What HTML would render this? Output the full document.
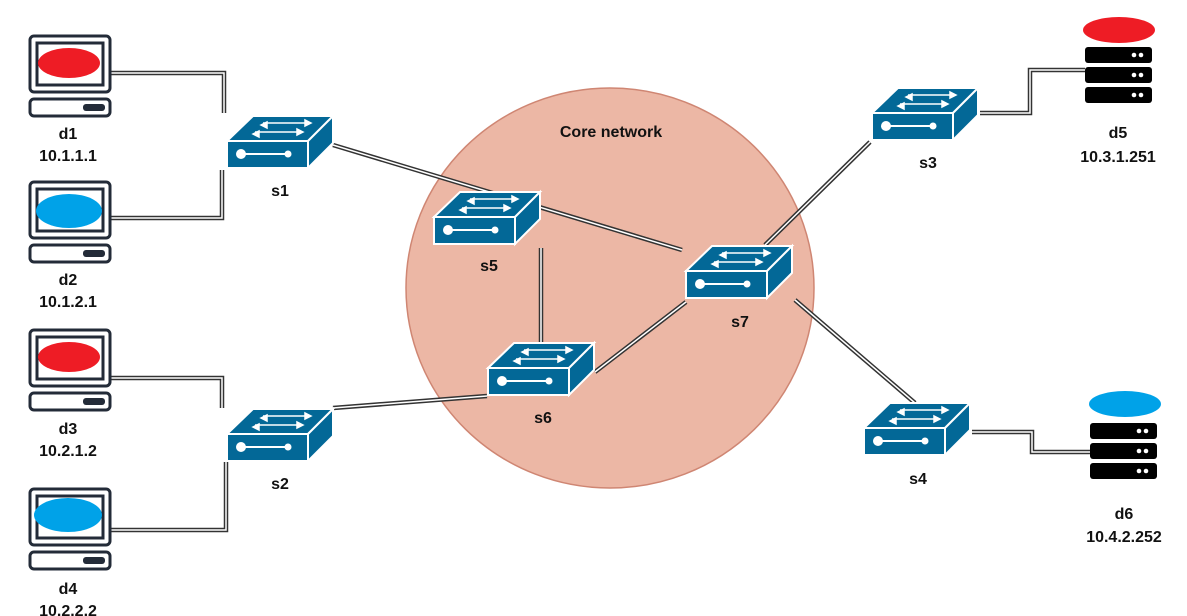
<!DOCTYPE html>
<html><head><meta charset="utf-8"><style>
html,body{margin:0;padding:0;background:#fff;}
svg{display:block;}
text{font-family:"Liberation Sans",sans-serif;font-weight:bold;font-size:16px;fill:#111;text-anchor:middle;}
</style></head><body>
<svg width="1187" height="616" viewBox="0 0 1187 616" xmlns="http://www.w3.org/2000/svg">
<defs>
<g id="sw">
<polygon points="0,0 81,0 106,-25 26,-25" fill="#036897" stroke="#fff" stroke-width="2"/>
<polygon points="81,0 106,-25 106,2 81,27" fill="#036897" stroke="#fff" stroke-width="2"/>
<rect x="0" y="0" width="81" height="27" fill="#036897" stroke="#fff" stroke-width="2"/>
<line x1="12" y1="13" x2="58" y2="13" stroke="#fff" stroke-width="2"/>
<circle cx="14" cy="13" r="5" fill="#fff"/><circle cx="61" cy="13" r="3.5" fill="#fff"/>
<g stroke="#fff" stroke-width="1.5" fill="#fff">
<line x1="36" y1="-18" x2="82" y2="-18"/><polygon points="84,-18 78,-21 78,-15"/>
<line x1="28" y1="-9" x2="74" y2="-9"/><polygon points="76,-9 70,-12 70,-6"/>
<polygon points="26,-7 32,-10 32,-4"/>
<polygon points="34,-16 40,-19 40,-13"/>
</g>
</g>
<g id="pc">
<rect x="0" y="0" width="80" height="56" rx="4" fill="#fff" stroke="#232b38" stroke-width="3"/>
<rect x="7" y="7" width="66" height="42" fill="#fff" stroke="#232b38" stroke-width="3"/>
<rect x="0" y="63" width="80" height="17" rx="4" fill="#fff" stroke="#232b38" stroke-width="3"/>
<rect x="53" y="68" width="22" height="7" rx="3" fill="#232b38"/>
</g>
<g id="srv">
<rect x="0" y="0" width="67" height="16" rx="3" fill="#000"/>
<rect x="0" y="20" width="67" height="16" rx="3" fill="#000"/>
<rect x="0" y="40" width="67" height="16" rx="3" fill="#000"/>
<g fill="#fff"><circle cx="49" cy="8" r="2.3"/><circle cx="56" cy="8" r="2.3"/>
<circle cx="49" cy="28" r="2.3"/><circle cx="56" cy="28" r="2.3"/>
<circle cx="49" cy="48" r="2.3"/><circle cx="56" cy="48" r="2.3"/></g>
</g>
</defs>
<ellipse cx="610" cy="288" rx="204" ry="200" fill="#ecb7a5" stroke="#cf8673" stroke-width="1.5"/>
<text x="611" y="137">Core network</text>
<g fill="none" stroke-linejoin="miter">
<g stroke="#333" stroke-width="4.5">
<polyline points="110,73 224,73 224,113"/>
<polyline points="110,218 222,218 222,170"/>
<polyline points="110,378 222,378 222,408"/>
<polyline points="110,530 226,530 226,462"/>
<line x1="333" y1="145" x2="682" y2="250"/>
<line x1="541" y1="248" x2="541" y2="342"/>
<line x1="333" y1="408" x2="487" y2="396"/>
<line x1="595" y1="372" x2="686" y2="302"/>
<line x1="765" y1="245" x2="870" y2="142"/>
<line x1="795" y1="300" x2="915" y2="403"/>
<polyline points="980,113 1030,113 1030,70 1085,70"/>
<polyline points="972,432 1032,432 1032,452 1090,452"/>
</g>
<g stroke="#fff" stroke-width="1.5">
<polyline points="110,73 224,73 224,113"/>
<polyline points="110,218 222,218 222,170"/>
<polyline points="110,378 222,378 222,408"/>
<polyline points="110,530 226,530 226,462"/>
<line x1="333" y1="145" x2="682" y2="250"/>
<line x1="541" y1="248" x2="541" y2="342"/>
<line x1="333" y1="408" x2="487" y2="396"/>
<line x1="595" y1="372" x2="686" y2="302"/>
<line x1="765" y1="245" x2="870" y2="142"/>
<line x1="795" y1="300" x2="915" y2="403"/>
<polyline points="980,113 1030,113 1030,70 1085,70"/>
<polyline points="972,432 1032,432 1032,452 1090,452"/>
</g>
</g>
<use href="#sw" x="227" y="141"/>
<use href="#sw" x="434" y="217"/>
<use href="#sw" x="488" y="368"/>
<use href="#sw" x="686" y="271"/>
<use href="#sw" x="227" y="434"/>
<use href="#sw" x="872" y="113"/>
<use href="#sw" x="864" y="428"/>
<text x="280" y="196">s1</text>
<text x="489" y="271">s5</text>
<text x="543" y="423">s6</text>
<text x="740" y="327">s7</text>
<text x="280" y="489">s2</text>
<text x="928" y="168">s3</text>
<text x="918" y="484">s4</text>
<use href="#pc" x="30" y="36"/>
<ellipse cx="69" cy="63" rx="31" ry="15" fill="#ee1c25"/>
<use href="#pc" x="30" y="182"/>
<ellipse cx="69" cy="211" rx="33" ry="17" fill="#00a2e8"/>
<use href="#pc" x="30" y="330"/>
<ellipse cx="69" cy="357" rx="31" ry="15" fill="#ee1c25"/>
<use href="#pc" x="30" y="489"/>
<ellipse cx="68" cy="515" rx="34" ry="17" fill="#00a2e8"/>
<text x="68" y="139">d1</text><text x="68" y="161">10.1.1.1</text>
<text x="68" y="285">d2</text><text x="68" y="307">10.1.2.1</text>
<text x="68" y="434">d3</text><text x="68" y="456">10.2.1.2</text>
<text x="68" y="594">d4</text><text x="68" y="616">10.2.2.2</text>
<ellipse cx="1119" cy="30" rx="36" ry="13" fill="#ee1c25"/>
<use href="#srv" x="1085" y="47"/>
<ellipse cx="1125" cy="404" rx="36" ry="13" fill="#00a2e8"/>
<use href="#srv" x="1090" y="423"/>
<text x="1118" y="138">d5</text><text x="1118" y="162">10.3.1.251</text>
<text x="1124" y="519">d6</text><text x="1124" y="542">10.4.2.252</text>
</svg>
</body></html>
